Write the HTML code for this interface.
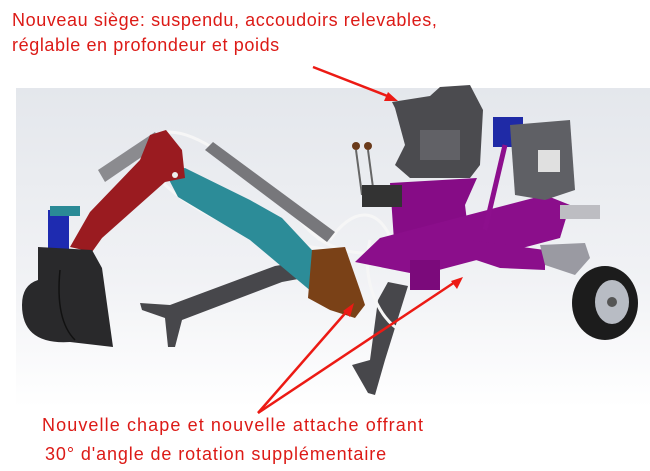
<!DOCTYPE html>
<html><head><meta charset="utf-8"><style>
html,body{margin:0;padding:0;background:#fff;}
.t{position:absolute;color:#dc1a16;font-family:"Liberation Sans",sans-serif;font-size:18px;white-space:nowrap;letter-spacing:0.9px}
</style></head><body>
<div style="position:relative;width:650px;height:471px;overflow:hidden">
<svg width="650" height="471" style="position:absolute;left:0;top:0">
<defs>
<linearGradient id="bg" x1="0" y1="0" x2="0" y2="1">
<stop offset="0" stop-color="#e4e7ec"/><stop offset="0.6" stop-color="#f1f2f5"/><stop offset="1" stop-color="#fff"/>
</linearGradient>
</defs>
<rect x="16" y="88" width="634" height="320" fill="url(#bg)"/>
<polygon points="140,303 170,305 275,266 322,258 325,274 282,282 182,320 175,347 168,347 165,318 142,310" fill="#47474b"/>
<polygon points="388,282 408,286 385,360 375,395 368,393 352,365 370,360 378,300" fill="#47474b"/>
<path d="M150,140 C180,110 250,170 320,240 M160,180 C200,220 260,240 330,250 M330,240 C350,210 380,200 395,250 M370,240 C360,280 380,320 400,330 M300,220 C330,260 380,260 420,240" stroke="#f6f6f6" stroke-width="3" fill="none"/>
<polygon points="98,170 155,132 162,143 105,182" fill="#8b8b8f"/>
<polygon points="205,150 213,142 335,232 327,242" fill="#77777b"/>
<polygon points="165,172 185,168 250,200 282,218 338,278 328,297 312,292 250,240 178,197" fill="#2c8c98"/>
<polygon points="70,247 92,252 102,238 165,182 185,178 182,150 166,130 150,135 140,160 90,212" fill="#9a1b20"/>
<circle cx="175" cy="175" r="3" fill="#eee"/>
<rect x="48" y="210" width="21" height="40" fill="#1e2bb0"/>
<rect x="50" y="206" width="30" height="10" fill="#2a8a96"/>
<path d="M38,247 L92,250 L102,268 L113,347 L70,342 Q22,345 22,305 Q22,285 38,280 Z" fill="#29292b"/>
<path d="M60,270 Q55,320 75,340" stroke="#111" stroke-width="1.5" fill="none"/>
<polygon points="312,250 345,247 360,290 365,305 355,318 330,310 308,298" fill="#7a4117"/>
<polygon points="390,183 477,178 465,205 470,245 420,265 395,255" fill="#860c86"/>
<polygon points="355,262 380,238 545,195 570,205 560,238 420,275" fill="#8b0e8b"/>
<polygon points="470,240 545,250 545,270 500,268 470,258" fill="#8b0e8b"/>
<rect x="410" y="260" width="30" height="30" fill="#7b0a7b"/>
<polygon points="540,245 585,243 590,258 575,275 545,265" fill="#9a9aa2"/>
<rect x="560" y="205" width="40" height="14" fill="#bdbdc2"/>
<ellipse cx="605" cy="303" rx="33" ry="37" fill="#1c1c1c"/>
<ellipse cx="612" cy="302" rx="17" ry="22" fill="#b8bcc4"/>
<circle cx="612" cy="302" r="5" fill="#555"/>
<polygon points="392,102 430,96 440,87 470,85 483,110 480,165 470,178 410,178 395,165 405,145 395,108" fill="#4b4b4f"/>
<rect x="420" y="130" width="40" height="30" fill="#616166"/>
<line x1="356" y1="150" x2="362" y2="195" stroke="#666" stroke-width="2"/>
<line x1="368" y1="150" x2="374" y2="195" stroke="#666" stroke-width="2"/>
<circle cx="356" cy="146" r="4" fill="#6a3a1a"/><circle cx="368" cy="146" r="4" fill="#6a3a1a"/>
<rect x="362" y="185" width="40" height="22" fill="#333"/>
<rect x="493" y="117" width="30" height="30" fill="#1f2aa6"/>
<polygon points="510,125 570,120 575,190 545,200 515,195" fill="#5f6065"/>
<rect x="538" y="150" width="22" height="22" fill="#e0e0e0"/>
<line x1="505" y1="145" x2="485" y2="230" stroke="#8d0f8d" stroke-width="5"/>
<g stroke="#ec1a14" stroke-width="2.5" fill="#ec1a14">
<line x1="313" y1="67" x2="390" y2="97"/>
<polygon points="398,101 384,101 388,92" stroke="none"/>
<line x1="258" y1="413" x2="348" y2="310"/>
<polygon points="354,303 350,317 343,311" stroke="none"/>
<line x1="258" y1="413" x2="455" y2="282"/>
<polygon points="463,277 457,289 451,281" stroke="none"/>
</g>
</svg>
<div class="t" style="left:12px;top:10px;letter-spacing:0.6px">Nouveau siège: suspendu, accoudoirs relevables,</div>
<div class="t" style="left:12px;top:35px;letter-spacing:0.6px">réglable en profondeur et poids</div>
<div class="t" style="left:42px;top:415px;letter-spacing:1.1px">Nouvelle chape et nouvelle attache offrant</div>
<div class="t" style="left:45px;top:444px">30° d'angle de rotation supplémentaire</div>
</div>
</body></html>
